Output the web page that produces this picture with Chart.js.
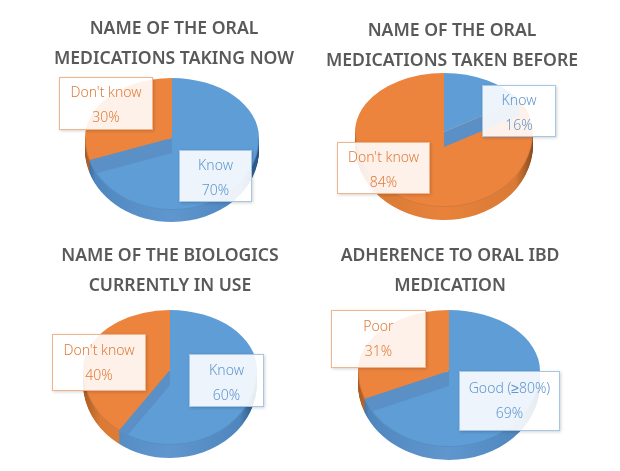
<!DOCTYPE html>
<html>
<head>
<meta charset="utf-8">
<title>Oral medication and biologics knowledge</title>
<script src="https://cdn.jsdelivr.net/npm/chart.js@4"></script>
<style>
    html, body { margin: 0; padding: 0; background: #fff; }
    #page { position: relative; width: 620px; height: 471px; overflow: hidden; font-family: "Noto Sans", sans-serif; }
    canvas { position: absolute; }
    .title { position: absolute; width: 300px; text-align: center; white-space: nowrap; color: #595959; font-size: 17.6px; font-weight: 600; line-height: 30px; }
    .box { position: absolute; box-sizing: border-box; text-align: center; background: rgba(255, 255, 255, 0.89); border: 1px solid; box-shadow: 1px 1px 3px rgba(0, 0, 0, 0.18); font-size: 14px; font-weight: 300; line-height: 25px; }
</style>
</head>
<body>
<div id="page"></div>
<script>
// Datos
const chartTitles = [
    ['NAME OF THE ORAL', 'MEDICATIONS TAKING NOW'],
    ['NAME OF THE ORAL', 'MEDICATIONS TAKEN BEFORE'],
    ['NAME OF THE BIOLOGICS', 'CURRENTLY IN USE'],
    ['ADHERENCE TO ORAL IBD', 'MEDICATION']
];
const sliceLabels = [
    ['Know', "Don't know"],
    ['Know', "Don't know"],
    ['Know', "Don't know"],
    ['Good (≥80%)', 'Poor']
];
const sliceValues = [
    [70, 30],
    [16, 84],
    [60, 40],
    [69, 31]
];

const BLUE = '#5f9dd6';
const ORANGE = '#ec843e';
const WALL_DEPTH = 15;

// Posicion de cada panel en la pagina
const panels = [
    { left: 0, top: 0, h: 235, cx: 172, cy: 138, r: 87, ryTop: 60, ryBottom: 72, depth: 12, titleX: 174, titleY: 12,
      boxes: [[179, 150, 73, 52, 13], [59, 77, 94, 53, 13]] },
    { left: 310, top: 0, h: 235, cx: 444, cy: 132, r: 89, ryTop: 59, ryBottom: 75, depth: 13, titleX: 452, titleY: 14,
      boxes: [[482, 85, 74, 52, 13], [337, 142, 93, 52, 13]] },
    { left: 0, top: 235, h: 236, cx: 170, cy: 370, r: 87, ryTop: 60, ryBottom: 75, depth: 13, titleX: 170, titleY: 239,
      boxes: [[189, 354, 75, 53, 14], [52, 334, 94, 57, 14]] },
    { left: 310, top: 235, h: 236, cx: 449, cy: 371, r: 91, ryTop: 61, ryBottom: 76, depth: 13, titleX: 450, titleY: 239,
      boxes: [[459, 371, 101, 60, 15], [331, 310, 95, 58, 14]] }
];

// Degradados de la pared lateral del pastel
function sideGradient(ctx, cx, r, isBlue) {
    const g = ctx.createLinearGradient(cx - r, 0, cx + r, 0);
    if (isBlue) {
        g.addColorStop(0, '#2f5f8f');
        g.addColorStop(0.06, '#4f86bd');
        g.addColorStop(0.3, '#5a90c8');
        g.addColorStop(0.5, '#5f96cd');
        g.addColorStop(0.9, '#4f86bd');
        g.addColorStop(1, '#24507c');
    } else {
        g.addColorStop(0, '#a85a22');
        g.addColorStop(0.1, '#d97a35');
        g.addColorStop(0.5, '#e8823a');
        g.addColorStop(0.9, '#d97a35');
        g.addColorStop(1, '#8a4a1c');
    }
    return g;
}

// Dibuja el pastel de Chart.js aplastado, con otra escala arriba y abajo del centro
const tiltPlugin = {
    id: 'tilt',
    beforeDatasetsDraw(chart, args, opts) {
        const ctx = chart.ctx;
        const arcs = chart.getDatasetMeta(0).data;
        const cx = arcs[0].x, cy = arcs[0].y, r = arcs[0].outerRadius;
        const w = chart.width, h = chart.height;

        function half(isTop, shift, draw) {
            ctx.save();
            ctx.beginPath();
            if (isTop) ctx.rect(0, 0, w, cy);
            else ctx.rect(0, cy + shift, w, h);
            ctx.clip();
            ctx.translate(cx, cy + shift);
            ctx.scale(1, (isTop ? opts.ryTop : opts.ryBottom) / r);
            ctx.translate(-cx, -cy);
            draw();
            ctx.restore();
        }

        // pared lateral
        for (let d = opts.depth; d >= 1; d--) {
            half(false, d, () => {
                arcs.forEach((arc, i) => {
                    ctx.beginPath();
                    ctx.moveTo(cx, cy);
                    ctx.arc(cx, cy, r, arc.startAngle, arc.endAngle);
                    ctx.closePath();
                    ctx.fillStyle = sideGradient(ctx, cx, r, i === 0);
                    ctx.fill();
                });
            });
        }
        // banda para unir la pared con el borde izquierdo y derecho
        arcs.forEach((arc, i) => {
            const sideColor = sideGradient(ctx, cx, r, i === 0);
            [Math.PI, 0].forEach(a => {
                const inside = (a >= arc.startAngle && a <= arc.endAngle) ||
                    (a + 2 * Math.PI >= arc.startAngle && a + 2 * Math.PI <= arc.endAngle);
                if (inside) {
                    ctx.fillStyle = sideColor;
                    ctx.fillRect(a === 0 ? cx + r - 3 : cx - r, cy, 3, opts.depth);
                }
            });
        });

        // cara superior: los arcos de la libreria
        half(true, 0, () => arcs.forEach(arc => arc.draw(ctx)));
        half(false, 0, () => arcs.forEach(arc => arc.draw(ctx)));

        // linea suave del borde frontal
        half(false, 0, () => {
            ctx.beginPath();
            ctx.arc(cx, cy, r - 0.5, 0, Math.PI);
            ctx.strokeStyle = 'rgba(40, 60, 90, 0.15)';
            ctx.lineWidth = 1;
            ctx.stroke();
        });

        // pared del corte, al final de la primera porcion
        const a = arcs[0].endAngle;
        const px = cx + r * Math.cos(a);
        const py = cy + r * Math.sin(a) * (Math.sin(a) < 0 ? opts.ryTop : opts.ryBottom) / r;
        ctx.save();
        ctx.beginPath();
        ctx.ellipse(cx, cy, r, opts.ryTop, 0, Math.PI, 2 * Math.PI);
        ctx.ellipse(cx, cy, r, opts.ryBottom, 0, 0, Math.PI);
        ctx.clip();
        ctx.beginPath();
        ctx.moveTo(cx, cy);
        ctx.lineTo(px, py);
        ctx.lineTo(px, py + WALL_DEPTH);
        ctx.lineTo(cx, cy + WALL_DEPTH);
        ctx.closePath();
        ctx.fillStyle = '#5b90c6';
        ctx.fill();
        ctx.restore();

        return false;
    }
};

const page = document.getElementById('page');

panels.forEach((p, n) => {
    const canvas = document.createElement('canvas');
    canvas.width = 310;
    canvas.height = p.h;
    canvas.style.left = p.left + 'px';
    canvas.style.top = p.top + 'px';
    page.appendChild(canvas);

    const localX = p.cx - p.left, localY = p.cy - p.top;
    new Chart(canvas.getContext('2d'), {
        type: 'pie',
        data: {
            labels: sliceLabels[n],
            datasets: [{ data: sliceValues[n], backgroundColor: [BLUE, ORANGE], borderWidth: 0 }]
        },
        options: {
            responsive: false,
            animation: false,
            layout: {
                padding: {
                    left: localX - p.r,
                    right: 310 - localX - p.r,
                    top: localY - p.r,
                    bottom: p.h - localY - p.r
                }
            },
            plugins: {
                legend: { display: false },
                tooltip: { enabled: false },
                tilt: { ryTop: p.ryTop, ryBottom: p.ryBottom, depth: p.depth }
            }
        },
        plugins: [tiltPlugin]
    });

    const title = document.createElement('div');
    title.className = 'title';
    title.style.left = (p.titleX - 150) + 'px';
    title.style.top = p.titleY + 'px';
    title.innerHTML = chartTitles[n].join('<br>');
    page.appendChild(title);

    p.boxes.forEach((b, i) => {
        const box = document.createElement('div');
        box.className = 'box';
        box.style.left = b[0] + 'px';
        box.style.top = b[1] + 'px';
        box.style.width = b[2] + 'px';
        box.style.height = b[3] + 'px';
        box.style.paddingTop = (b[4] - 12) + 'px';
        box.style.color = i === 0 ? '#5f96cf' : '#e07c3c';
        box.style.borderColor = i === 0 ? '#a6c6e6' : '#f2b48c';
        box.innerHTML = sliceLabels[n][i] + '<br>' + sliceValues[n][i] + '%';
        page.appendChild(box);
    });
});
</script>
</body>
</html>
